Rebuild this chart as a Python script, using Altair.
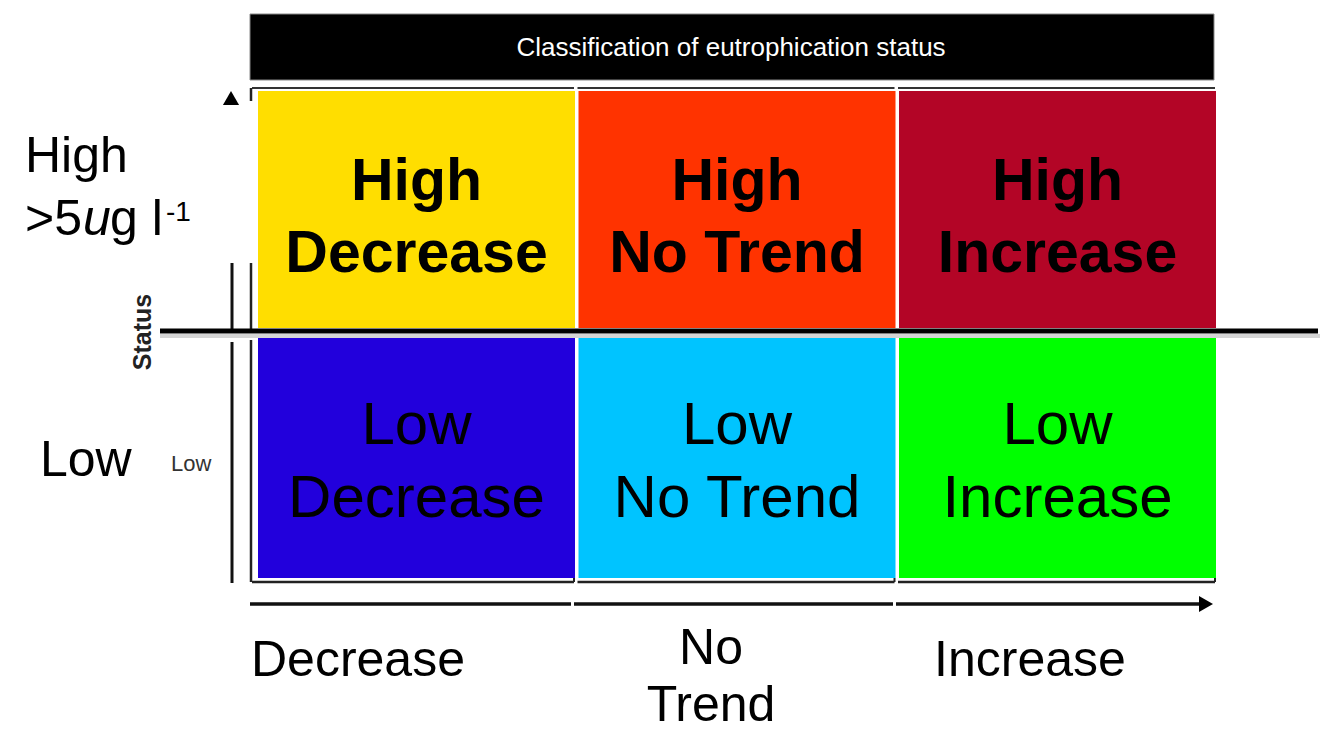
import altair as alt
import pandas as pd

# ---------------- data ----------------
trends = ["Decrease", "No Trend", "Increase"]
statuses = ["High", "Low"]
cell_colors = {
    ("High", "Decrease"): "#FFDE00",
    ("High", "No Trend"): "#FF3300",
    ("High", "Increase"): "#B30526",
    ("Low", "Decrease"): "#2200DC",
    ("Low", "No Trend"): "#00C4FF",
    ("Low", "Increase"): "#00FF00",
}
header_text = "Classification of eutrophication status"
y_axis_title = "Status"
y_axis_low_tick = "Low"
left_labels = ["High", "Low"]
bottom_labels = [["Decrease"], ["No", "Trend"], ["Increase"]]

FONT = "Liberation Sans"
W, H = 1318, 725

# ---------------- layout (pixel-like canvas units) ----------------
col_left0, col_pitch, col_w = 258, 320.5, 317
row_bounds = {"High": (91, 328), "Low": (338, 578)}
line_base = {"High": (200, 272), "Low": (444, 517)}

cells = []
cell_txt = []
for s in statuses:
    for i, t in enumerate(trends):
        x0 = col_left0 + i * col_pitch
        x1 = x0 + col_w
        y0, y1 = row_bounds[s]
        cells.append(dict(x=x0, x2=x1, y=y0, y2=y1, color=cell_colors[(s, t)]))
        b1, b2 = line_base[s]
        cx = (x0 + x1) / 2
        cell_txt.append(dict(x=cx, y=b1, text=s, status=s))
        cell_txt.append(dict(x=cx, y=b2, text=t, status=s))
cells = pd.DataFrame(cells)
cell_txt = pd.DataFrame(cell_txt)

xs = alt.Scale(domain=[8, 8 + W], nice=False, zero=False)
ys = alt.Scale(domain=[8, 8 + H], nice=False, zero=False, reverse=True)


def X(f="x"):
    return alt.X(f"{f}:Q", scale=xs, axis=None)


def Y(f="y"):
    return alt.Y(f"{f}:Q", scale=ys, axis=None)


layers = []

# cells
layers.append(
    alt.Chart(cells).mark_rect().encode(
        x=X(), x2="x2:Q", y=Y(), y2="y2:Q", color=alt.Color("color:N", scale=None)
    )
)

# header bar
hdr = pd.DataFrame([dict(x=250, x2=1214, y=14, y2=80)])
layers.append(
    alt.Chart(hdr).mark_rect(color="black", stroke="#888", strokeWidth=1).encode(
        x=X(), x2="x2:Q", y=Y(), y2="y2:Q"
    )
)
layers.append(
    alt.Chart(pd.DataFrame([dict(x=731, y=56, text=header_text)]))
    .mark_text(font=FONT, fontSize=26, color="white", align="center", baseline="alphabetic")
    .encode(x=X(), y=Y(), text="text:N")
)

# frame lines (thin brackets around cells) and axes lines
segs = []
for i in range(3):
    x0 = col_left0 + i * col_pitch - 6 if i == 0 else col_left0 + i * col_pitch - 1
    x1 = col_left0 + i * col_pitch + col_w - 1
    segs.append(dict(x=x0, x2=x1, y=88, y2=88, w=2, c="#333"))
    segs.append(dict(x=x0, x2=x1, y=582, y2=582, w=2.5, c="#222"))
    segs.append(dict(x=x1, x2=x1, y=578, y2=582, w=2, c="#222"))
# left bracket lines
segs.append(dict(x=251, x2=251, y=88, y2=101, w=2.5, c="#222"))
segs.append(dict(x=251, x2=251, y=263, y2=329, w=2.5, c="#222"))
segs.append(dict(x=251, x2=251, y=340, y2=582, w=2.5, c="#222"))
# status axis line
segs.append(dict(x=232, x2=232, y=263, y2=331, w=3, c="#111"))
segs.append(dict(x=232, x2=232, y=342, y2=583, w=3, c="#111"))
# trend axis line (arrow)
segs.append(dict(x=250, x2=571, y=604, y2=604, w=3.5, c="#111"))
segs.append(dict(x=574, x2=893, y=604, y2=604, w=3.5, c="#111"))
segs.append(dict(x=896, x2=1205, y=604, y2=604, w=3.5, c="#111"))
# separator shadow and line
segs.append(dict(x=160, x2=1320, y=336, y2=336, w=4, c="#d4d4d4"))
segs.append(dict(x=160, x2=1318, y=331, y2=331, w=5, c="#000"))
segs = pd.DataFrame(segs)

layers.append(
    alt.Chart(segs).mark_rule().encode(
        x=X(), x2="x2:Q", y=Y(), y2="y2:Q",
        color=alt.Color("c:N", scale=None),
        strokeWidth=alt.StrokeWidth("w:Q", scale=None),
    )
)

# arrow heads
heads = pd.DataFrame([
    dict(x=231, y=98, shape="triangle-up"),
    dict(x=1206, y=604, shape="triangle-right"),
])
layers.append(
    alt.Chart(heads).mark_point(filled=True, color="black", opacity=1, size=260).encode(
        x=X(), y=Y(), shape=alt.Shape("shape:N", scale=None)
    )
)

# cell texts
layers.append(
    alt.Chart(cell_txt[cell_txt.status == "High"])
    .mark_text(font=FONT, fontSize=59, fontWeight="bold", color="black", align="center", baseline="alphabetic")
    .encode(x=X(), y=Y(), text="text:N")
)
layers.append(
    alt.Chart(cell_txt[cell_txt.status == "Low"])
    .mark_text(font=FONT, fontSize=60, color="black", align="center", baseline="alphabetic")
    .encode(x=X(), y=Y(), text="text:N")
)


def txt(x, y, text, size, align="left", weight="normal", style="normal", color="black", angle=0, baseline="alphabetic"):
    kw = dict(font=FONT, fontSize=size, fontWeight=weight, fontStyle=style, color=color,
              align=align, baseline=baseline)
    if angle:
        kw["angle"] = angle
    return alt.Chart(pd.DataFrame([dict(x=x, y=y, text=text)])).mark_text(**kw).encode(
        x=X(), y=Y(), text="text:N"
    )


# left labels
layers.append(txt(25, 172, left_labels[0], 50))
layers.append(txt(25, 235, ">5", 50))
layers.append(txt(83, 235, "u", 50, style="italic"))
layers.append(txt(110, 235, "g l", 50))
layers.append(txt(166, 221, "-1", 28))
layers.append(txt(40, 476, left_labels[1], 50))
layers.append(txt(171, 471, y_axis_low_tick, 22, color="#333"))
layers.append(txt(143, 332, y_axis_title, 25, align="center", weight="bold", color="#222", angle=270, baseline="middle"))

# bottom labels
bottom_x = [358, 711, 1030]
bottom_base = [[676], [664, 721], [676]]
for bx, lines, bases in zip(bottom_x, bottom_labels, bottom_base):
    for ln, by in zip(lines, bases):
        layers.append(txt(bx, by, ln, 50, align="center"))

chart = (
    alt.layer(*layers)
    .properties(width=W, height=H, padding=0, autosize="none", background="white")
    .configure_view(stroke=None)
)
chart.save("out.html", embed_options={"renderer": "svg", "actions": False})
